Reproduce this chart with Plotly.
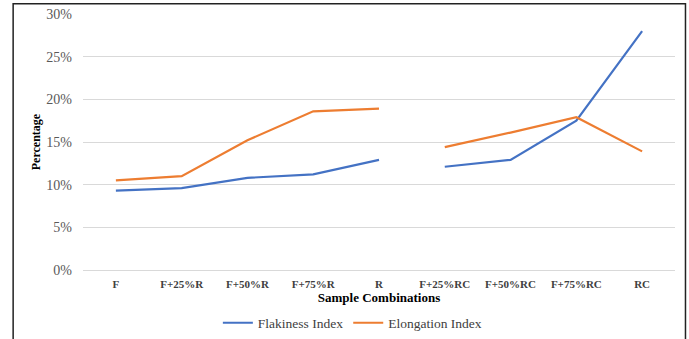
import plotly.graph_objects as go

categories = ["F", "F+25%R", "F+50%R", "F+75%R", "R",
              "F+25%RC", "F+50%RC", "F+75%RC", "RC"]
flakiness = [9.3, 9.6, 10.8, 11.2, 12.9, 12.1, 12.9, 17.5, 28.0]
elongation = [10.5, 11.0, 15.2, 18.6, 18.9, 14.4, 16.1, 17.9, 13.9]
y_ticks = [0, 5, 10, 15, 20, 25, 30]
y_tick_labels = ["0%", "5%", "10%", "15%", "20%", "25%", "30%"]

BLUE = "#4472C4"
ORANGE = "#ED7D31"
FONT = "Liberation Serif"

fig = go.Figure()
split = 5
for name, vals, color in [("Flakiness Index", flakiness, BLUE),
                          ("Elongation Index", elongation, ORANGE)]:
    fig.add_trace(go.Scatter(x=categories[:split], y=vals[:split], mode="lines",
                             name=name, legendgroup=name,
                             line=dict(color=color, width=2.2)))
    fig.add_trace(go.Scatter(x=categories[split:], y=vals[split:], mode="lines",
                             name=name, legendgroup=name, showlegend=False,
                             line=dict(color=color, width=2.2)))

fig.update_layout(
    width=689, height=339,
    margin=dict(l=83, r=14, t=14, b=69, autoexpand=False),
    paper_bgcolor="white", plot_bgcolor="white",
    font=dict(family=FONT, size=12, color="#404040"),
    showlegend=True,
    legend=dict(orientation="h", x=0.455, xanchor="center", y=-0.207, yanchor="middle",
                font=dict(family=FONT, size=13.5, color="#404040"),
                itemwidth=30, traceorder="normal"),
    xaxis=dict(type="category", categoryorder="array", categoryarray=categories,
               range=[-0.5, 8.5], showgrid=False, showline=False, ticks="",
               automargin=False, ticklabelstandoff=6,
               tickfont=dict(family=FONT, size=11, color="#404040", weight="bold"),
               title=dict(text="<b>Sample Combinations</b>", standoff=2,
                          font=dict(family=FONT, size=13, color="#000000"))),
    yaxis=dict(range=[0, 30], tickmode="array", tickvals=y_ticks, ticktext=y_tick_labels,
               showgrid=True, gridcolor="#D9D9D9", gridwidth=1,
               zeroline=True, zerolinecolor="#D9D9D9", zerolinewidth=1,
               showline=False, ticks="", automargin=False, ticklabelstandoff=10,
               tickfont=dict(family=FONT, size=14, color="#595959"),
               title=dict(text="<b>Percentage</b>", standoff=3,
                          font=dict(family=FONT, size=12, color="#000000"))),
    shapes=[dict(type="rect", xref="paper", yref="paper",
                 x0=-0.118, x1=1.0177, y0=-0.35, y1=1.04,
                 line=dict(color="#222222", width=1.5), fillcolor="rgba(0,0,0,0)",
                 layer="above")],
)

fig.write_html("out.html", config={"displayModeBar": False},
               post_script="document.body.style.margin='0';")
